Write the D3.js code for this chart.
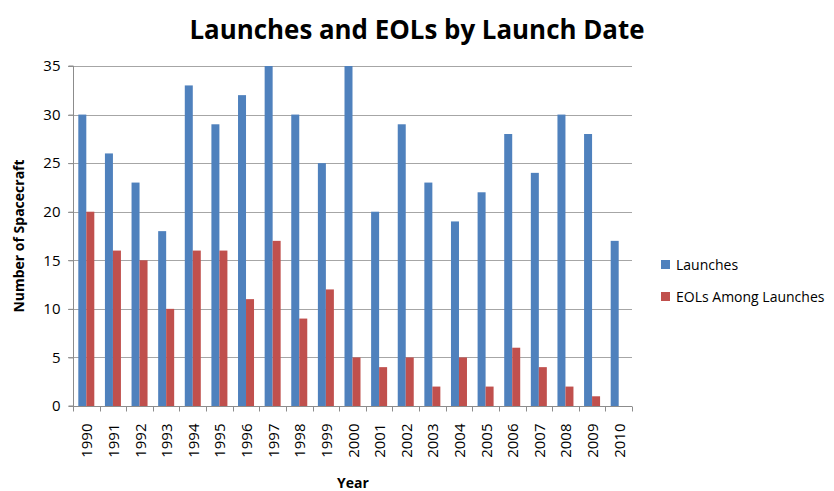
<!DOCTYPE html>
<html>
<head>
    <meta charset="utf-8">
    <title>Launches and EOLs by Launch Date</title>
    <script src="https://cdn.jsdelivr.net/npm/d3@7"></script>
    <style>
        body { margin: 0; background: #fff; }
        text { font-family: "Open Sans", "Noto Sans", sans-serif; fill: #000; }
        .grid line { stroke: #a6a6a6; stroke-width: 1px; }
        .axis path, .axis line { stroke: #8c8c8c; }
    </style>
</head>
<body>
<div id="chart"></div>
<script>
    const years = ["1990", "1991", "1992", "1993", "1994", "1995", "1996", "1997", "1998", "1999", "2000",
        "2001", "2002", "2003", "2004", "2005", "2006", "2007", "2008", "2009", "2010"];
    const launches = [30, 26, 23, 18, 33, 29, 32, 35, 30, 25, 35, 20, 29, 23, 19, 22, 28, 24, 30, 28, 17];
    const eols = [20, 16, 15, 10, 16, 16, 11, 17, 9, 12, 5, 4, 5, 2, 5, 2, 6, 4, 2, 1, 0];
    const seriesNames = ["Launches", "EOLs Among Launches"];
    const colors = ["#4f81bd", "#c0504d"];
    const yTicks = [0, 5, 10, 15, 20, 25, 30, 35];

    const W = 834, H = 491;
    const margin = {top: 66, right: 202, bottom: 85, left: 73};
    const width = W - margin.left - margin.right;
    const height = H - margin.top - margin.bottom;

    const root = d3.select("#chart").append("svg")
        .attr("width", W)
        .attr("height", H);

    const svg = root.append("g")
        .attr("transform", `translate(${margin.left},${margin.top})`);

    const x = d3.scaleBand().domain(years).range([0, width]);
    const inner = d3.scaleBand().domain(seriesNames).range([0, 16]);
    const y = d3.scaleLinear().domain([0, 35]).range([height, 0]);

    // gridlines
    svg.append("g")
        .attr("class", "grid")
        .selectAll("line")
        .data(yTicks.slice(1))
        .join("line")
        .attr("x1", -5)
        .attr("x2", width)
        .attr("y1", d => Math.round(y(d)) + 0.5)
        .attr("y2", d => Math.round(y(d)) + 0.5);

    // bars
    const data = [launches, eols];
    data.forEach((vals, si) => {
        svg.append("g")
            .selectAll("rect")
            .data(vals)
            .join("rect")
            .attr("x", (d, i) => x(years[i]) + (x.bandwidth() - 16) / 2 + inner(seriesNames[si]))
            .attr("y", d => y(d))
            .attr("width", inner.bandwidth())
            .attr("height", d => height - y(d))
            .attr("fill", colors[si]);
    });

    // y axis
    const yAxis = svg.append("g")
        .attr("class", "axis")
        .attr("transform", "translate(0.5,0)")
        .call(d3.axisLeft(y).tickValues(yTicks).tickSize(5).tickPadding(8));
    yAxis.select(".domain").attr("d", `M-5,${height}H0V0H-5`);
    yAxis.selectAll("text").style("font-size", "15px");

    // x axis with ticks between categories
    const xg = svg.append("g")
        .attr("class", "axis")
        .attr("transform", `translate(0,${Math.round(height) + 0.5})`);
    xg.append("line")
        .attr("x1", 0).attr("x2", width)
        .attr("y1", 0).attr("y2", 0);
    xg.selectAll(".tk")
        .data(d3.range(years.length + 1))
        .join("line")
        .attr("class", "tk")
        .attr("x1", i => Math.round(i * x.step()) + 0.5)
        .attr("x2", i => Math.round(i * x.step()) + 0.5)
        .attr("y1", 0)
        .attr("y2", 5);
    xg.selectAll("text")
        .data(years)
        .join("text")
        .attr("transform", d => `translate(${x(d) + x.bandwidth() / 2 + 6},17) rotate(-90)`)
        .attr("text-anchor", "end")
        .style("font-size", "15px")
        .text(d => d);

    // axis titles
    root.append("text")
        .attr("x", 353)
        .attr("y", 488)
        .attr("text-anchor", "middle")
        .style("font-size", "14px")
        .style("font-weight", "bold")
        .text("Year");

    root.append("text")
        .attr("transform", "translate(24,236) rotate(-90)")
        .attr("text-anchor", "middle")
        .style("font-size", "14px")
        .style("font-weight", "bold")
        .text("Number of Spacecraft");

    // title
    root.append("text")
        .attr("x", 417)
        .attr("y", 39)
        .attr("text-anchor", "middle")
        .style("font-size", "26px")
        .style("font-weight", "bold")
        .attr("textLength", 455)
        .attr("lengthAdjust", "spacingAndGlyphs")
        .text("Launches and EOLs by Launch Date");

    // legend
    const legend = root.append("g").attr("transform", "translate(661,0)");
    seriesNames.forEach((name, i) => {
        const ly = 265 + i * 32;
        legend.append("rect")
            .attr("x", 0).attr("y", ly - 5)
            .attr("width", 9).attr("height", 9)
            .attr("fill", colors[i]);
        legend.append("text")
            .attr("x", 15).attr("y", ly + 5)
            .style("font-size", "14px")
            .text(name);
    });
</script>
</body>
</html>
